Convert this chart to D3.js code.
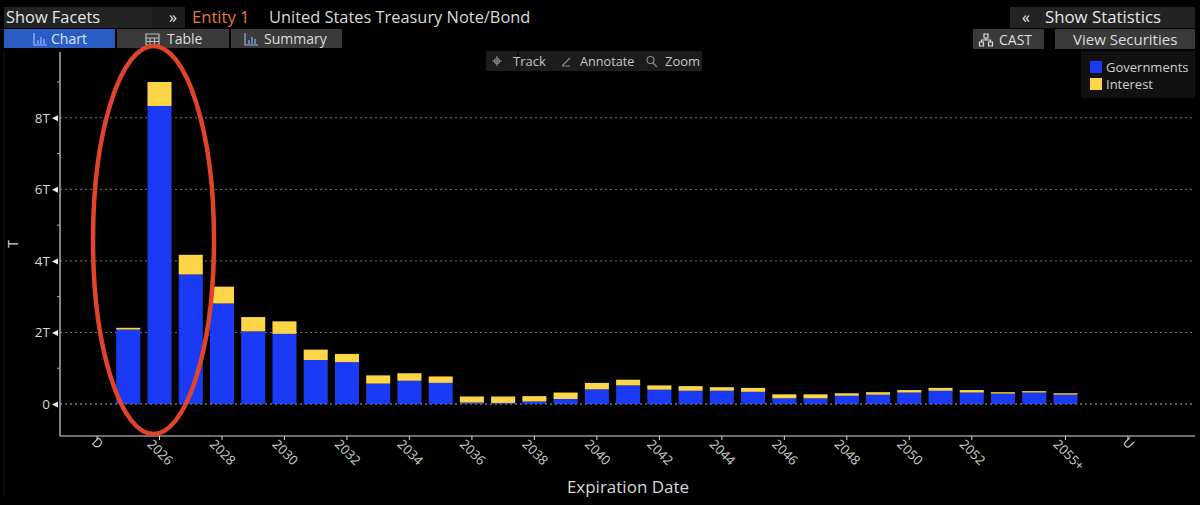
<!DOCTYPE html>
<html>
<head>
<meta charset="utf-8">
<script src="https://cdn.jsdelivr.net/npm/d3@7/dist/d3.min.js"></script>
<style>
html, body { margin: 0; padding: 0; background: #000; overflow: hidden; }
text { font-family: "Open Sans", sans-serif; }
</style>
</head>
<body>
<script>
// values in trillions
var categories = ["D", "2025", "2026", "2027", "2028", "2029", "2030", "2031", "2032", "2033", "2034", "2035",
  "2036", "2037", "2038", "2039", "2040", "2041", "2042", "2043", "2044", "2045", "2046", "2047", "2048", "2049",
  "2050", "2051", "2052", "2053", "2054", "2055+", " ", "U"];
var governments = [0, 2.08, 8.33, 3.62, 2.81, 2.03, 1.96, 1.23, 1.17, 0.57, 0.65, 0.59,
  0.04, 0.03, 0.07, 0.14, 0.41, 0.52, 0.40, 0.37, 0.37, 0.34, 0.16, 0.16, 0.23, 0.26,
  0.32, 0.37, 0.32, 0.29, 0.32, 0.26, 0, 0];
var interest = [0, 0.05, 0.67, 0.55, 0.47, 0.40, 0.35, 0.29, 0.23, 0.23, 0.21, 0.18,
  0.17, 0.18, 0.15, 0.18, 0.18, 0.16, 0.12, 0.13, 0.10, 0.11, 0.11, 0.11, 0.07, 0.07,
  0.07, 0.08, 0.07, 0.04, 0.04, 0.04, 0, 0];
var xTickLabels = ["D", "2026", "2028", "2030", "2032", "2034", "2036", "2038", "2040", "2042", "2044", "2046",
  "2048", "2050", "2052", "2055+", "U"];
var yMajorTicks = [0, 2, 4, 6, 8];
var yMinorTicks = [1, 3, 5, 7, 9];
var seriesNames = ["Governments", "Interest"];
var seriesColors = ["#1a3af5", "#fcd648"];

var svg = d3.select("body").append("svg")
  .attr("width", 1200)
  .attr("height", 505);

svg.append("rect").attr("width", 1200).attr("height", 505).attr("fill", "#000");

// scales
var x = d3.scaleBand().domain(categories).range([81.4, 1143.6]).paddingInner(0.23).paddingOuter(0.115);
var y = d3.scaleLinear().domain([0, 9]).range([404, 82]);

// toolbar boxes
var boxes = [
  [4, 7, 148, 21, "#232323"], [152, 7, 33, 21, "#1c1c1c"],
  [4, 29, 111, 19, "#2b5cc4"], [117, 29, 112, 19, "#3a3a3a"], [231, 29, 111, 19, "#3a3a3a"],
  [486, 51, 216, 20, "#1c1c1c"],
  [1010, 7, 185, 21, "#232323"], [973, 29, 71, 20, "#3a3a3a"], [1055, 29, 140, 20, "#3a3a3a"],
  [1081, 51, 114, 47, "#111111"]
];
svg.selectAll("rect.box").data(boxes).enter().append("rect")
  .attr("class", "box")
  .attr("x", function (d) { return d[0]; })
  .attr("y", function (d) { return d[1]; })
  .attr("width", function (d) { return d[2]; })
  .attr("height", function (d) { return d[3]; })
  .attr("fill", function (d) { return d[4]; });

svg.append("line").attr("x1", 518).attr("x2", 518).attr("y1", 51).attr("y2", 71).attr("stroke", "#000");

// toolbar labels: text, x, baseline, size, colour
var labels = [
  ["Show Facets", 6, 23, 16.4, "#e6e6e6"], ["»", 169, 23, 16, "#e6e6e6"],
  ["Entity 1", 192, 23, 16.6, "#e8793a"], ["United States Treasury Note/Bond", 269, 23, 16.4, "#d8d8d8"],
  ["Chart", 51, 44, 14, "#d8e4ff"], ["Table", 167, 44, 14, "#dddddd"], ["Summary", 264, 44, 14, "#dddddd"],
  ["Track", 513, 66, 13, "#c4c4c4"], ["Annotate", 580, 66, 12.7, "#c4c4c4"], ["Zoom", 665, 66, 13, "#c4c4c4"],
  ["«", 1022, 23, 16, "#e6e6e6"], ["Show Statistics", 1045, 23, 16.8, "#e6e6e6"],
  ["CAST", 999, 45, 14, "#dddddd"], ["View Securities", 1073, 45, 15, "#dddddd"]
];
svg.selectAll("text.label").data(labels).enter().append("text")
  .attr("class", "label")
  .attr("x", function (d) { return d[1]; })
  .attr("y", function (d) { return d[2]; })
  .attr("font-size", function (d) { return d[3]; })
  .attr("fill", function (d) { return d[4]; })
  .text(function (d) { return d[0]; });

// small toolbar icons
var icons = [
  ["M34 33V45H47M38 44V40M41 44V37M44 44V39", "#9db8f5"],
  ["M146 34H159V45H146ZM146 38H159M146 41.5H159M150 38V45M154.5 38V45", "#bbbbbb"],
  ["M245 33V45H258M249 44V40M252 44V37M255 44V39", "#8fb0ee"],
  ["M497 56V66M492 61H502M494.500 61A2.500 2.500 0 1 0 499.500 61A2.500 2.500 0 1 0 494.500 61", "#888888"],
  ["M562 66L570 58M562 66H570", "#888888"],
  ["M647 60A3.500 3.500 0 1 0 654 60A3.500 3.500 0 1 0 647 60M653 63L657 67", "#888888"],
  ["M984 34H988V38H984ZM979.500 42H983.500V46H979.500ZM988.500 42H992.500V46H988.500ZM986 38V40M981.500 42V40H990.500V42", "#dddddd"]
];
svg.selectAll("path.icon").data(icons).enter().append("path")
  .attr("class", "icon")
  .attr("d", function (d) { return d[0]; })
  .attr("fill", "none")
  .attr("stroke", function (d) { return d[1]; })
  .attr("stroke-width", 1.2);

// faint line on the far left
svg.append("line").attr("x1", 4).attr("x2", 4).attr("y1", 52).attr("y2", 497).attr("stroke", "#181818");

// gridlines
svg.selectAll("line.grid").data(yMajorTicks).enter().append("line")
  .attr("class", "grid")
  .attr("x1", 60).attr("x2", 1195)
  .attr("y1", function (d) { return y(d); })
  .attr("y2", function (d) { return y(d); })
  .attr("stroke", "#777777")
  .attr("stroke-dasharray", "2,3");

// stacked bars
var rows = categories.map(function (c, i) { return { cat: c, Governments: governments[i], Interest: interest[i] }; });
var stacked = d3.stack().keys(seriesNames)(rows);

var layers = svg.selectAll("g.layer").data(stacked).enter().append("g")
  .attr("class", "layer")
  .attr("fill", function (d, i) { return seriesColors[i]; });

layers.selectAll("rect")
  .data(function (d) { return d.filter(function (e) { return e[1] > e[0]; }); })
  .enter().append("rect")
  .attr("x", function (d) { return x(d.data.cat); })
  .attr("y", function (d) { return y(d[1]); })
  .attr("width", x.bandwidth())
  .attr("height", function (d) { return y(d[0]) - y(d[1]); });

// zero line shows through the foot of the bars
svg.append("line")
  .attr("x1", 60).attr("x2", 1195)
  .attr("y1", y(0)).attr("y2", y(0))
  .attr("stroke", "#777777")
  .attr("stroke-dasharray", "2,3");

// x axis
var xAxis = d3.axisBottom(x).tickValues(xTickLabels).tickSize(4).tickSizeOuter(0);
var xGroup = svg.append("g").attr("transform", "translate(0,436)").call(xAxis);
xGroup.select(".domain").remove();
xGroup.append("line").attr("x1", 60).attr("x2", 1195).attr("stroke", "#d8d8d8").attr("stroke-width", 1.2);
xGroup.selectAll(".tick line").attr("stroke", "#d8d8d8");
xGroup.selectAll(".tick text")
  .attr("fill", "#d0d0d0")
  .attr("font-size", 13)
  .attr("text-anchor", "start")
  .attr("dy", null)
  .attr("y", null)
  .attr("transform", function (d) {
    return d.length === 1 ? "translate(-6,7) rotate(45)" : "translate(-13,9) rotate(45)";
  });

// y axis
var yAxis = d3.axisLeft(y).tickValues(yMajorTicks)
  .tickFormat(function (d) { return d === 0 ? "0" : d + "T"; })
  .tickSize(0);
var yGroup = svg.append("g").attr("transform", "translate(60,0)").call(yAxis);
yGroup.select(".domain").remove();
yGroup.append("line").attr("y1", 52).attr("y2", 436).attr("stroke", "#d8d8d8").attr("stroke-width", 1.2);
yGroup.selectAll(".tick text")
  .attr("fill", "#d8d8d8")
  .attr("font-size", 13.5)
  .attr("x", -10);
yGroup.selectAll(".tick").append("path")
  .attr("d", "M-8 0L-2 -3V3Z")
  .attr("fill", "#f0f0f0");
yGroup.selectAll("line.minor").data(yMinorTicks).enter().append("line")
  .attr("class", "minor")
  .attr("x1", -3).attr("x2", 0)
  .attr("y1", function (d) { return y(d); })
  .attr("y2", function (d) { return y(d); })
  .attr("stroke", "#aaaaaa");

// axis titles
svg.append("text")
  .attr("transform", "translate(18,244) rotate(-90)")
  .attr("text-anchor", "middle")
  .attr("font-size", 14)
  .attr("fill", "#d0d0d0")
  .text("T");
svg.append("text")
  .attr("x", 628).attr("y", 493)
  .attr("text-anchor", "middle")
  .attr("font-size", 17)
  .attr("fill", "#d8d8d8")
  .text("Expiration Date");

// legend
var legend = svg.selectAll("g.legend").data(seriesNames).enter().append("g")
  .attr("class", "legend")
  .attr("transform", function (d, i) { return "translate(1090," + (61 + i * 17) + ")"; });
legend.append("rect")
  .attr("width", 12).attr("height", 12)
  .attr("fill", function (d, i) { return seriesColors[i]; });
legend.append("text")
  .attr("x", 16).attr("y", 11)
  .attr("font-size", 13)
  .attr("fill", "#d0d0d0")
  .text(function (d) { return d; });

// hand drawn red ellipse
svg.append("ellipse")
  .attr("cx", 153.5).attr("cy", 240)
  .attr("rx", 60.5).attr("ry", 194)
  .attr("fill", "none")
  .attr("stroke", "#e0442a")
  .attr("stroke-width", 4.5);
</script>
</body>
</html>
